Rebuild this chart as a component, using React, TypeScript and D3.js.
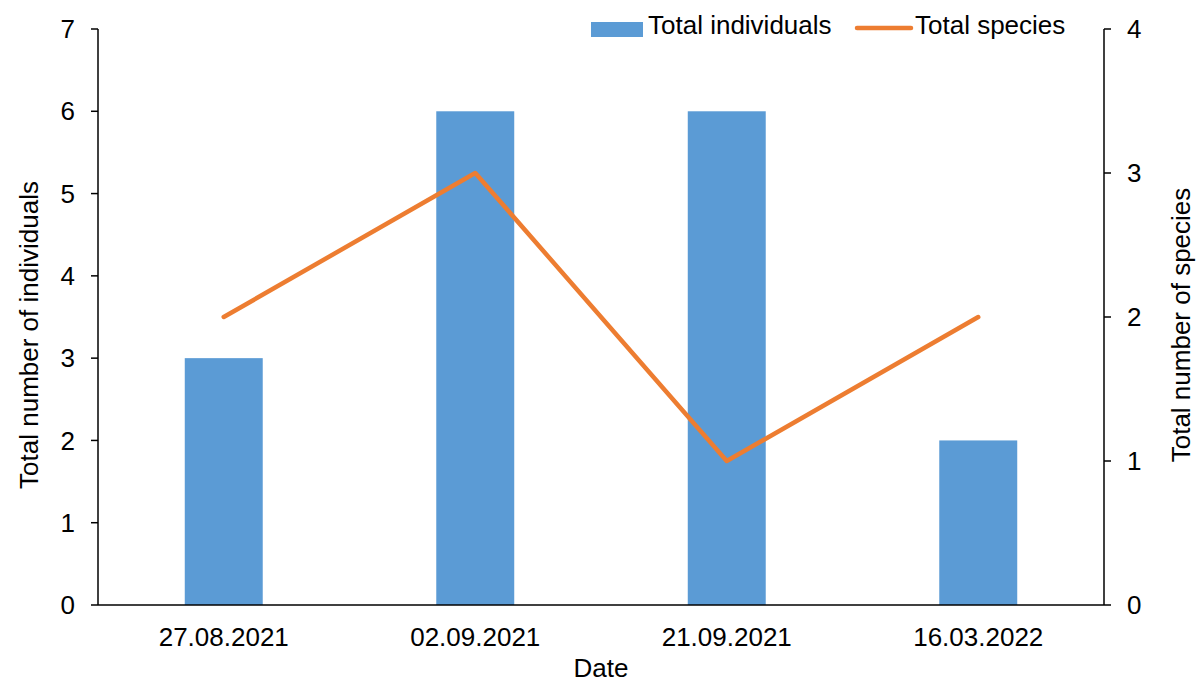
import React from "react";
import * as d3 from "d3";

const categories = ["27.08.2021", "02.09.2021", "21.09.2021", "16.03.2022"];
const individuals = [3, 6, 6, 2];
const species = [2, 3, 1, 2];
const leftTicks = [0, 1, 2, 3, 4, 5, 6, 7];
const rightTicks = [0, 1, 2, 3, 4];

const W = 1200;
const H = 682;
const M = { left: 98, right: 1104, top: 29, bottom: 605 };
const FONT = "'Liberation Sans', Arial, sans-serif";
const FS = 26;
const BLUE = "#5B9BD5";
const ORANGE = "#ED7D31";

export default function App() {
  const x = d3.scaleBand<string>().domain(categories).range([M.left, M.right]).paddingInner(0.69).paddingOuter(0.345);
  const yL = d3.scaleLinear().domain([0, 7]).range([M.bottom, M.top]);
  const yR = d3.scaleLinear().domain([0, 4]).range([M.bottom, M.top]);
  const cx = (c: string) => (x(c) as number) + x.bandwidth() / 2;
  const line = d3
    .line<number>()
    .x((_, i) => cx(categories[i]))
    .y((d) => yR(d));

  return (
    <svg width={W} height={H} style={{ position: "absolute", left: 0, top: 0, background: "#fff" }} fontFamily={FONT}>
      {/* bars */}
      {categories.map((c, i) => (
        <rect key={c} x={x(c)} y={yL(individuals[i])} width={x.bandwidth()} height={yL(0) - yL(individuals[i])} fill={BLUE} />
      ))}
      {/* species line */}
      <path d={line(species) || ""} fill="none" stroke={ORANGE} strokeWidth={4.5} strokeLinejoin="round" strokeLinecap="round" />

      {/* left axis */}
      <line x1={M.left} x2={M.left} y1={M.top} y2={M.bottom} stroke="#000" strokeWidth={1.5} />
      {leftTicks.map((t) => (
        <g key={"l" + t}>
          <line x1={M.left - 7} x2={M.left} y1={yL(t)} y2={yL(t)} stroke="#000" strokeWidth={1.5} />
          <text x={M.left - 23} y={yL(t)} dy="0.35em" fontSize={FS} textAnchor="end">{t}</text>
        </g>
      ))}
      {/* right axis */}
      <line x1={M.right} x2={M.right} y1={M.top} y2={M.bottom} stroke="#000" strokeWidth={1.5} />
      {rightTicks.map((t) => (
        <g key={"r" + t}>
          <line x1={M.right} x2={M.right + 7} y1={yR(t)} y2={yR(t)} stroke="#000" strokeWidth={1.5} />
          <text x={M.right + 23} y={yR(t)} dy="0.35em" fontSize={FS} textAnchor="start">{t}</text>
        </g>
      ))}
      {/* bottom axis */}
      <line x1={M.left} x2={M.right} y1={M.bottom} y2={M.bottom} stroke="#000" strokeWidth={1.5} />
      {categories.map((c) => (
        <text key={"x" + c} x={cx(c)} y={646} fontSize={FS} textAnchor="middle">{c}</text>
      ))}

      {/* axis titles */}
      <text x={601} y={677} fontSize={FS} textAnchor="middle">Date</text>
      <text transform={`translate(29,335) rotate(-90)`} fontSize={FS} textAnchor="middle" dy="0.35em">Total number of individuals</text>
      <text transform={`translate(1181,325) rotate(-90)`} fontSize={FS} textAnchor="middle" dy="0.35em">Total number of species</text>

      {/* legend */}
      <rect x={591} y={22} width={52} height={15} fill={BLUE} />
      <text x={648} y={25} dy="0.35em" fontSize={FS}>Total individuals</text>
      <line x1={857} x2={911} y1={28} y2={28} stroke={ORANGE} strokeWidth={4.5} strokeLinecap="round" />
      <text x={915} y={25} dy="0.35em" fontSize={FS}>Total species</text>
    </svg>
  );
}
